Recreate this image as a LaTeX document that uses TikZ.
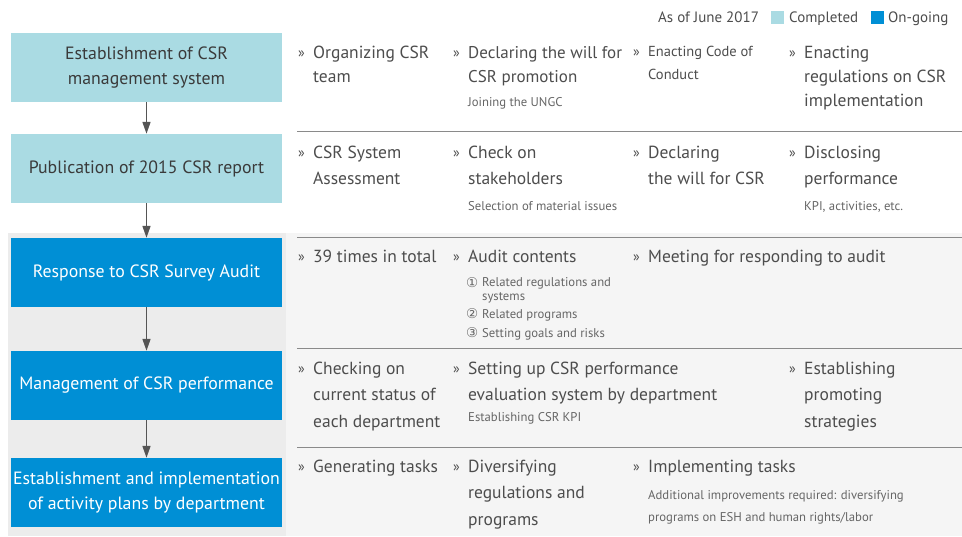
\documentclass[tikz,border=0pt]{standalone}
\usepackage{fontspec}
\setmainfont{PT Sans}
\newfontfamily\symf{DejaVu Sans}
\usetikzlibrary{arrows.meta}
\definecolor{lb}{HTML}{AADBE3}
\definecolor{db}{HTML}{008FD5}
\definecolor{tx}{HTML}{4D4D4D}
\definecolor{bx}{HTML}{3A3A3A}
\definecolor{sm}{HTML}{666666}
\definecolor{lp}{HTML}{ECECEC}
\definecolor{rp}{HTML}{F5F5F5}
\definecolor{ln}{HTML}{8A8A8A}
\definecolor{ar}{HTML}{555555}
\begin{document}
\begin{tikzpicture}[x=1pt,y=-1pt,
  stepbox/.style={minimum width=271pt, minimum height=69pt, inner sep=0pt, align=center, font=\fontsize{17.8}{25}\selectfont},
  done/.style={stepbox, fill=lb, text=bx},
  going/.style={stepbox, fill=db, text=white},
  arr/.style={draw=ar, line width=1.6pt, -{Triangle[length=12pt,width=8pt]}},
  sep/.style={draw=ln, line width=1pt},
  mk/.style={anchor=base west, inner sep=0pt, text=tx, font=\fontsize{14}{14}\selectfont},
  itm/.style={anchor=base west, inner sep=0pt, align=left, text=tx},
  big/.style={itm, font=\fontsize{17.5}{24}\selectfont},
  bigb/.style={itm, font=\fontsize{17.5}{26.8}\selectfont},
  mid/.style={itm, font=\fontsize{14.5}{23}\selectfont},
  small/.style={anchor=base west, inner sep=0pt, align=left, text=sm, font=\fontsize{12.7}{22}\selectfont},
  num/.style={anchor=base west, inner sep=0pt, text=sm, font=\symf\fontsize{13.5}{13.5}\selectfont},
  leg/.style={anchor=base west, inner sep=0pt, text=tx, font=\fontsize{15}{15}\selectfont}]
\useasboundingbox (0,0) rectangle (962,536);
\fill[white] (0,0) rectangle (962,536);
% panels
\fill[lp] (8,233) rectangle (286,536);
\fill[rp] (286,233) rectangle (962,536);
% legend
\node[leg] (asof) at (658,22) {As of June 2017};
\node[fill=lb, minimum size=13pt, inner sep=0pt, anchor=north west] (sq1) at (771,11) {};
\node[leg] (comp) at (789,22) {Completed};
\node[fill=db, minimum size=13pt, inner sep=0pt, anchor=north west] (sq2) at (871,11) {};
\node[leg] (ongo) at (888,22) {On-going};
% boxes
\node[done] (b1) at (146.5,67.5) {Establishment of CSR\\management system};
\node[done] (b2) at (146.5,168.5) {Publication of 2015 CSR report};
\node[going] (b3) at (146.5,272.5) {Response to CSR Survey Audit};
\node[going] (b4) at (146.5,385.5) {Management of CSR performance};
\node[going] (b5) at (146.5,492.5) {Establishment and implementation\\of activity plans by department};
\draw[arr] (b1.south) -- (b2.north);
\draw[arr] (b2.south) -- (b3.north);
\draw[arr] (b3.south) -- (b4.north);
\draw[arr] (b4.south) -- (b5.north);
% separators
\coordinate (l1a) at (297,131); \coordinate (l1b) at (962,131);
\coordinate (l2a) at (297,237); \coordinate (l2b) at (962,237);
\coordinate (l3a) at (297,348); \coordinate (l3b) at (962,348);
\coordinate (l4a) at (297,447); \coordinate (l4b) at (962,447);
\draw[sep] (l1a) -- (l1b);
\draw[sep] (l2a) -- (l2b);
\draw[sep] (l3a) -- (l3b);
\draw[sep] (l4a) -- (l4b);
% row 1 (anchor = baseline of last line)
\node[mk] (m11) at (298,57) {»};
\node[big] (t11) at (313,82) {Organizing CSR\\team};
\node[mk] (m12) at (453,57) {»};
\node[big, font=\fontsize{17}{24}\selectfont] (t12) at (468,82) {Declaring the will for\\CSR promotion};
\node[small] (s12) at (468,106) {Joining the UNGC};
\node[mk] (m13) at (633,56) {»};
\node[mid] (t13) at (648,79) {Enacting Code of\\Conduct};
\node[mk] (m14) at (789,57) {»};
\node[big] (t14) at (804,106) {Enacting\\regulations on CSR\\implementation};
% row 2
\node[mk] (m21) at (298,157) {»};
\node[bigb] (t21) at (313,184.8) {CSR System\\Assessment};
\node[mk] (m22) at (453,157) {»};
\node[bigb] (t22) at (468,184.8) {Check on\\stakeholders};
\node[small] (s22) at (468,210) {Selection of material issues};
\node[mk] (m23) at (633,157) {»};
\node[bigb] (t23) at (648,184.8) {Declaring\\the will for CSR};
\node[mk] (m24) at (789,157) {»};
\node[bigb] (t24) at (804,184.8) {Disclosing\\performance};
\node[small] (s24) at (804,210) {KPI, activities, etc.};
% row 3
\node[mk] (m31) at (298,261) {»};
\node[big] (t31) at (313,262) {39 times in total};
\node[mk] (m32) at (453,261) {»};
\node[big] (t32) at (468,262) {Audit contents};
\node[num] (n1) at (466,287) {①};
\node[small, font=\fontsize{12.7}{14}\selectfont] (s32a) at (482,300) {Related regulations and\\systems};
\node[num] (n2) at (466,318) {②};
\node[small] (s32b) at (482,318) {Related programs};
\node[num] (n3) at (466,337) {③};
\node[small] (s32c) at (482,337) {Setting goals and risks};
\node[mk] (m33) at (633,261) {»};
\node[big] (t33) at (648,262) {Meeting for responding to audit};
% row 4
\node[mk] (m41) at (298,373) {»};
\node[bigb] (t41) at (313,427.6) {Checking on\\current status of\\each department};
\node[mk] (m42) at (453,373) {»};
\node[bigb] (t42) at (468,400.8) {Setting up CSR performance\\evaluation system by department};
\node[small] (s42) at (468,421) {Establishing CSR KPI};
\node[mk] (m44) at (789,373) {»};
\node[bigb] (t44) at (804,427.6) {Establishing\\promoting\\strategies};
% row 5
\node[mk] (m51) at (298,471) {»};
\node[bigb] (t51) at (313,472) {Generating tasks};
\node[mk] (m52) at (453,471) {»};
\node[bigb] (t52) at (468,525.6) {Diversifying\\regulations and\\programs};
\node[mk] (m53) at (633,471) {»};
\node[bigb] (t53) at (648,472) {Implementing tasks};
\node[small] (s53) at (648,521) {Additional improvements required: diversifying\\programs on ESH and human rights/labor};
\end{tikzpicture}
\end{document}
